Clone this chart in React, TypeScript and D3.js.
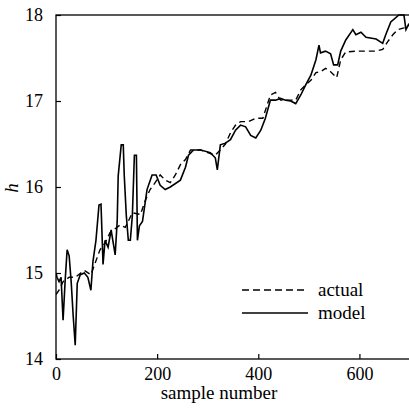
import React, { useEffect, useRef } from "react";
import * as d3 from "d3";

// sample index / value pairs
const modelSamples = [0, 2, 6, 10, 14, 18, 22, 26, 30, 34, 38, 42, 48, 56, 63, 69, 73, 79, 85, 89, 93, 97, 103, 109, 117, 121, 123, 129, 133, 135, 139, 143, 147, 151, 155, 159, 161, 165, 171, 180, 190, 198, 206, 216, 226, 246, 256, 262, 272, 286, 305, 315, 319, 325, 335, 345, 355, 365, 375, 385, 395, 405, 414, 424, 434, 444, 454, 464, 474, 484, 494, 504, 514, 520, 523, 533, 543, 549, 557, 563, 573, 587, 593, 603, 613, 633, 646, 652, 662, 678, 688, 692, 698];
const modelValues = [15.0, 14.95, 14.9, 14.95, 14.45, 14.9, 15.27, 15.2, 14.9, 14.5, 14.16, 14.88, 14.98, 15.0, 14.95, 14.8, 15.13, 15.38, 15.79, 15.8, 15.1, 15.38, 15.3, 15.5, 15.21, 15.6, 16.13, 16.49, 16.49, 16.13, 15.67, 15.38, 15.38, 15.67, 16.37, 16.37, 15.38, 15.55, 15.6, 15.97, 16.14, 16.14, 16.02, 15.97, 16.0, 16.08, 16.23, 16.37, 16.43, 16.43, 16.4, 16.34, 16.2, 16.49, 16.51, 16.55, 16.66, 16.72, 16.7, 16.6, 16.57, 16.66, 16.8, 17.01, 17.01, 17.03, 17.01, 17.0, 16.97, 17.07, 17.19, 17.3, 17.48, 17.65, 17.56, 17.58, 17.55, 17.42, 17.42, 17.58, 17.71, 17.83, 17.77, 17.8, 17.74, 17.72, 17.67, 17.77, 17.92, 18.0, 18.0, 17.83, 17.9];

const actualSamples = [0, 6, 14, 26, 38, 56, 69, 87, 97, 107, 127, 137, 151, 167, 177, 186, 196, 206, 216, 226, 236, 246, 256, 266, 286, 315, 325, 335, 345, 355, 365, 381, 395, 409, 424, 434, 444, 464, 474, 484, 494, 504, 514, 523, 533, 543, 555, 563, 573, 593, 613, 633, 646, 656, 666, 676, 688, 698];
const actualValues = [14.75, 14.8, 14.9, 14.95, 14.95, 15.03, 14.98, 15.27, 15.35, 15.47, 15.56, 15.53, 15.7, 15.68, 15.85, 15.97, 16.05, 16.14, 16.08, 16.05, 16.14, 16.26, 16.32, 16.43, 16.43, 16.37, 16.43, 16.5, 16.63, 16.72, 16.76, 16.76, 16.8, 16.8, 17.07, 17.1, 17.01, 17.01, 17.01, 17.13, 17.19, 17.24, 17.33, 17.34, 17.38, 17.34, 17.27, 17.48, 17.57, 17.58, 17.58, 17.58, 17.6, 17.69, 17.77, 17.83, 17.85, 17.88];

const xTicks = [0, 200, 400, 600];
const yTicks = [14, 15, 16, 17, 18];
const legendLabels = ["actual", "model"];

const FONT = "'Liberation Serif', 'DejaVu Serif', serif";

const App = () => {
  const ref = useRef<SVGSVGElement>(null);

  useEffect(() => {
    const svg = d3.select(ref.current);
    svg.selectAll("*").remove();

    const margin = { top: 15, left: 56 };
    const innerWidth = 354;
    const innerHeight = 344;

    const x = d3.scaleLinear().domain([0, 700]).range([0, innerWidth]);
    const y = d3.scaleLinear().domain([14, 18]).range([innerHeight, 0]);

    const g = svg
      .append("g")
      .attr("transform", `translate(${margin.left},${margin.top})`);

    g.append("defs")
      .append("clipPath")
      .attr("id", "plot-clip")
      .append("rect")
      .attr("x", 0)
      .attr("y", -1)
      .attr("width", innerWidth)
      .attr("height", innerHeight + 1);

    const line = d3
      .line<[number, number]>()
      .x((d) => x(d[0]))
      .y((d) => y(d[1]));

    const actual = actualSamples.map((s, i) => [s, actualValues[i]] as [number, number]);
    const model = modelSamples.map((s, i) => [s, modelValues[i]] as [number, number]);

    g.append("path")
      .datum(actual)
      .attr("clip-path", "url(#plot-clip)")
      .attr("fill", "none")
      .attr("stroke", "#000")
      .attr("stroke-width", 1.4)
      .attr("stroke-dasharray", "6,4")
      .attr("d", line);

    g.append("path")
      .datum(model)
      .attr("clip-path", "url(#plot-clip)")
      .attr("fill", "none")
      .attr("stroke", "#000")
      .attr("stroke-width", 1.6)
      .attr("d", line);

    // frame
    g.append("rect")
      .attr("width", innerWidth)
      .attr("height", innerHeight)
      .attr("fill", "none")
      .attr("stroke", "#000")
      .attr("stroke-width", 1.3);

    // X axis, ticks inward
    const xAxis = g
      .append("g")
      .attr("transform", `translate(0,${innerHeight})`)
      .call(d3.axisBottom(x).tickValues(xTicks).tickSize(-5).tickPadding(8).tickFormat(d3.format("d")));
    xAxis.select(".domain").remove();
    xAxis.attr("font-family", FONT).attr("font-size", 18);
    xAxis.selectAll("line").attr("stroke-width", 1.2);
    xAxis.selectAll("text").attr("fill", "#000");

    // Y axis, ticks inward
    const yAxis = g
      .append("g")
      .call(d3.axisLeft(y).tickValues(yTicks).tickSize(-5).tickPadding(13).tickFormat(d3.format("d")));
    yAxis.select(".domain").remove();
    yAxis.attr("font-family", FONT).attr("font-size", 18);
    yAxis.selectAll("line").attr("stroke-width", 1.2);
    yAxis.selectAll("text").attr("fill", "#000");

    // axis labels
    svg
      .append("text")
      .attr("x", 219)
      .attr("y", 399)
      .attr("text-anchor", "middle")
      .attr("font-family", FONT)
      .attr("font-size", 19)
      .text("sample number");

    svg
      .append("text")
      .attr("transform", "translate(18,188) rotate(-90)")
      .attr("text-anchor", "middle")
      .attr("font-family", FONT)
      .attr("font-style", "italic")
      .attr("font-size", 19)
      .text("h");

    // legend
    const legend = svg.append("g").attr("transform", "translate(242,290)");
    legendLabels.forEach((label, i) => {
      const row = legend.append("g").attr("transform", `translate(0,${i * 23})`);
      row
        .append("line")
        .attr("x1", 0)
        .attr("x2", 66)
        .attr("stroke", "#000")
        .attr("stroke-width", 1.5)
        .attr("stroke-dasharray", label === "actual" ? "7,4" : null);
      row
        .append("text")
        .attr("x", 76)
        .attr("y", 6)
        .attr("font-family", FONT)
        .attr("font-size", 19)
        .text(label);
    });
  }, []);

  return (
    <svg
      ref={ref}
      width={409}
      height={410}
      style={{ position: "absolute", left: 0, top: 0, background: "#fff" }}
    ></svg>
  );
};

export default App;
